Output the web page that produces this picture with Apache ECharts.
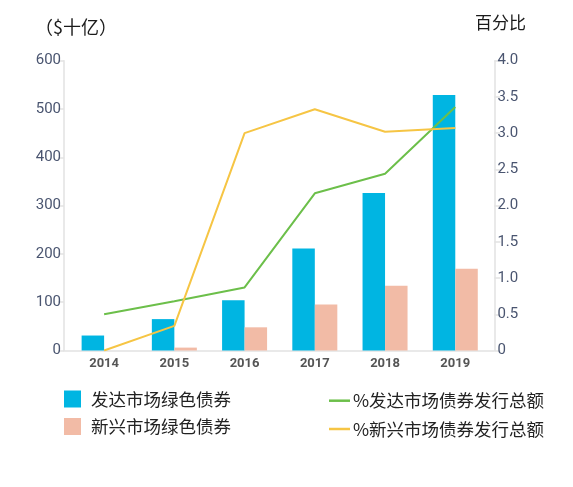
<!DOCTYPE html>
<html>
<head>
<meta charset="utf-8">
<script src="https://cdn.jsdelivr.net/npm/echarts@6/dist/echarts.min.js"></script>
<style>
html,body{margin:0;padding:0;background:#fff;}
#chart{width:573px;height:487px;}
</style>
</head>
<body>
<div id="chart"></div>
<script>
var years = ['2014','2015','2016','2017','2018','2019'];
var devBonds = [31, 65, 104, 211, 326, 529];
var emBonds = [0, 6, 48, 95, 134, 169];
var devPct = [0.50, 0.68, 0.87, 2.17, 2.44, 3.36];
var emPct = [0.00, 0.34, 3.00, 3.33, 3.02, 3.07];
var leftTitle = '（$十亿）';
var rightTitle = '百分比';
var names = ['发达市场绿色债券', '新兴市场绿色债券', '%发达市场债券发行总额', '%新兴市场债券发行总额'];

var cjk = "'Noto Sans CJK SC', sans-serif";
var num = "Roboto, 'Noto Sans', sans-serif";
var labelColor = '#4a5570';
var axisGray = '#e2e2e2';

var chart = echarts.init(document.getElementById('chart'), null, {renderer: 'canvas'});
chart.setOption({
  animation: false,
  backgroundColor: '#ffffff',
  graphic: [
    {type: 'text', left: 35, top: 18, style: {text: leftTitle, font: "18px " + cjk, fill: '#1a1a1a'}},
    {type: 'text', left: 475, top: 14, style: {text: rightTitle, font: "17px " + cjk, fill: '#1a1a1a'}}
  ],
  legend: [
    {
      data: [names[0], names[1]],
      orient: 'vertical', left: 64, top: 390, padding: 0,
      itemWidth: 17, itemHeight: 17, itemGap: 9.5, icon: 'rect',
      textStyle: {fontFamily: cjk, fontSize: 17.5, color: '#222', lineHeight: 18, padding: [0, 0, 0, 5]}
    },
    {
      data: [names[2], names[3]],
      orient: 'vertical', left: 329, top: 391.7, padding: 0,
      itemWidth: 21, itemHeight: 2.5, itemGap: 10.3, icon: 'rect',
      textStyle: {fontFamily: cjk, fontSize: 17.5, color: '#222', lineHeight: 18, padding: [0, 0, 0, -2]}
    }
  ],
  grid: [
    {left: 69, right: 82.6, top: 60.7, bottom: 136.5},
    {left: 64, right: 79, top: 60.7, bottom: 136.5}
  ],
  xAxis: [
    {
      type: 'category', data: years, gridIndex: 0,
      axisLine: {show: false}, axisTick: {show: false},
      axisLabel: {margin: 7, fontFamily: num, fontSize: 13, fontWeight: 'bold', color: '#555'}
    },
    {
      type: 'category', data: years, gridIndex: 1,
      axisLine: {show: true, lineStyle: {color: axisGray, width: 1.5}},
      axisTick: {show: false}, axisLabel: {show: false}
    }
  ],
  yAxis: [
    {
      type: 'value', min: 0, max: 600, interval: 100, gridIndex: 0, offset: 5,
      axisLine: {show: true, lineStyle: {color: axisGray, width: 1.5}},
      axisTick: {show: true, length: 6, lineStyle: {color: axisGray, width: 1.5}},
      splitLine: {show: false},
      axisLabel: {margin: 3, fontFamily: num, fontSize: 15, color: labelColor}
    },
    {
      type: 'value', min: 0, max: 4, interval: 0.5, gridIndex: 0, position: 'right', offset: 4,
      axisLine: {show: true, lineStyle: {color: axisGray, width: 1.5}},
      axisTick: {show: true, length: 6, lineStyle: {color: axisGray, width: 1.5}},
      splitLine: {show: false},
      axisLabel: {margin: 3, fontFamily: num, fontSize: 15, color: labelColor,
        formatter: function (v) { return v === 0 ? '0' : v.toFixed(1); }}
    },
    {type: 'value', gridIndex: 1, show: false}
  ],
  series: [
    {name: names[0], type: 'bar', data: devBonds, xAxisIndex: 0, yAxisIndex: 0,
      barWidth: 22.5, barGap: '0%', itemStyle: {color: '#00b5e2'}},
    {name: names[1], type: 'bar', data: emBonds, xAxisIndex: 0, yAxisIndex: 0,
      barWidth: 22.5, barGap: '0%', itemStyle: {color: '#f2bba6'}},
    {name: names[2], type: 'line', data: devPct, xAxisIndex: 0, yAxisIndex: 1,
      symbol: 'none', lineStyle: {color: '#6cbf4a', width: 2}, itemStyle: {color: '#6cbf4a'}},
    {name: names[3], type: 'line', data: emPct, xAxisIndex: 0, yAxisIndex: 1,
      symbol: 'none', lineStyle: {color: '#f6c544', width: 2}, itemStyle: {color: '#f6c544'}}
  ]
});
</script>
</body>
</html>
